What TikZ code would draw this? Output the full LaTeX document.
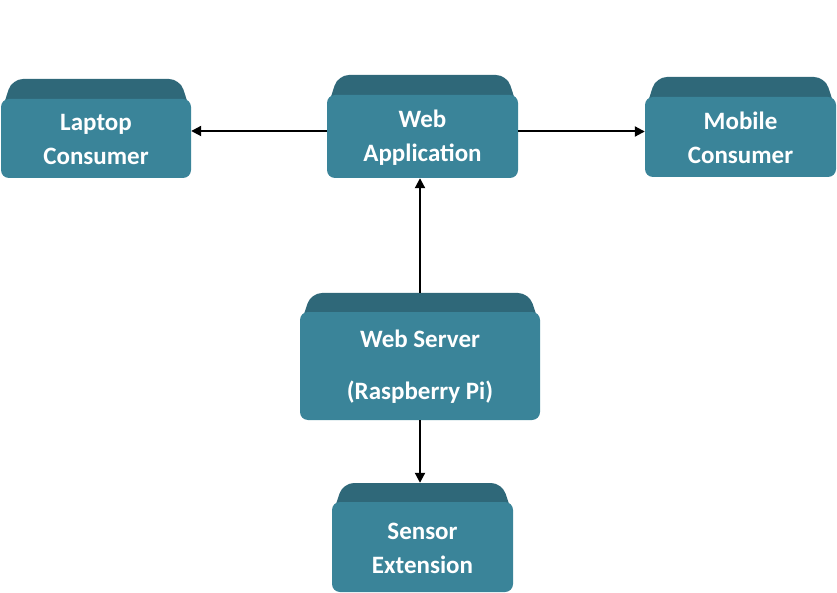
\documentclass[tikz,border=0pt]{standalone}
\usepackage{fontspec}
\setmainfont{Carlito}
\usetikzlibrary{arrows.meta}
\definecolor{frontc}{HTML}{3A8499}
\definecolor{bandc}{HTML}{2F6879}
\tikzset{
  boxtxt/.style={text=white, font=\bfseries\fontsize{25}{34}\selectfont, align=center, inner sep=0pt},
  arr/.style={line width=2pt, -{Triangle[length=10pt,width=10pt]}},
}
% #1 name, #2 left, #3 top, #4 right, #5 bottom, #6 front top, #7 text
\newcommand\tealbox[7]{%
  \fill[bandc, rounded corners=11pt] (#2,{#6+14}) -- ({#2+11},#3) -- ({#4-11},#3) -- (#4,{#6+14}) -- cycle;
  \fill[frontc, rounded corners=8pt] (#2,#6) rectangle (#4,#5);
  \node[inner sep=0pt, minimum width={(#4-#2)*1pt}, minimum height={(#5-#3)*1pt}] (#1) at ({(#2+#4)/2},{(#3+#5)/2}) {};
  \node[boxtxt] (#1-t) at ({(#2+#4)/2},{(#6+#5)/2+1}) {#7};
}
\begin{document}
\begin{tikzpicture}[x=1pt,y=-1pt]
\useasboundingbox (0,0) rectangle (837,593);
\tealbox{laptop}{1}{79}{191}{178}{99}{Laptop\\Consumer}
\tealbox{webapp}{327}{75}{518}{178}{95}{Web\\Application}
\tealbox{mobile}{645}{77}{836}{177}{97}{Mobile\\Consumer}
\tealbox{server}{300}{293}{540}{420}{312}{Web Server\\[18pt](Raspberry Pi)}
\tealbox{sensor}{332}{483}{513}{592}{502}{Sensor\\Extension}
\draw[arr] ([yshift=-4.5pt]webapp.west) -- ([yshift=-4.5pt]webapp.west -| laptop.east);
\draw[arr] ([yshift=-5pt]webapp.east) -- ([yshift=-5pt]webapp.east -| mobile.west);
\draw[arr] (server.north) -- (server.north |- webapp.south);
\draw[arr] (server.south) -- (server.south |- sensor.north);
\end{tikzpicture}
\end{document}
